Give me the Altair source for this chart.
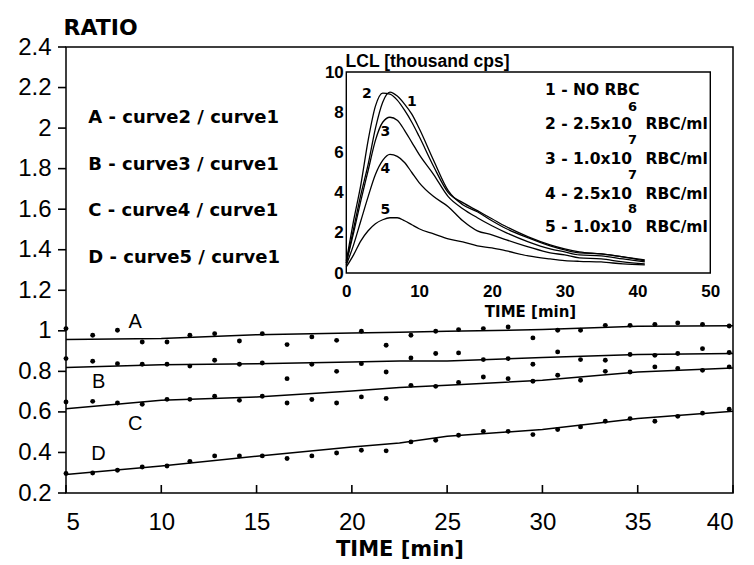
import altair as alt
import pandas as pd

# ---------------- main plot data (ratio vs time) ----------------
times = [5.0, 6.4, 7.7, 9.0, 10.3, 11.5, 12.8, 14.1, 15.3, 16.6, 17.9, 19.2, 20.5, 21.8,
         23.1, 24.4, 25.6, 26.9, 28.2, 29.5, 30.8, 32.0, 33.3, 34.6, 35.9, 37.1, 38.4, 39.8]
ratio_a = [1.011, 0.978, 1.003, 0.945, 0.945, 0.978, 0.986, 0.950, 0.986, 0.932, 0.970, 0.953, 0.998, 0.929,
           0.978, 0.998, 1.006, 1.011, 1.019, 0.965, 1.003, 1.003, 1.027, 1.027, 1.032, 1.039, 1.032, 1.024]
ratio_b = [0.863, 0.850, 0.838, 0.835, 0.835, 0.826, 0.855, 0.835, 0.841, 0.764, 0.835, 0.800, 0.838, 0.797,
           0.866, 0.888, 0.891, 0.858, 0.863, 0.835, 0.896, 0.858, 0.855, 0.883, 0.879, 0.888, 0.912, 0.893]
ratio_c = [0.649, 0.652, 0.644, 0.638, 0.662, 0.662, 0.677, 0.657, 0.677, 0.644, 0.661, 0.644, 0.674, 0.666,
           0.731, 0.726, 0.745, 0.772, 0.764, 0.751, 0.781, 0.756, 0.800, 0.797, 0.822, 0.814, 0.805, 0.822]
ratio_d = [0.296, 0.299, 0.312, 0.328, 0.333, 0.356, 0.383, 0.383, 0.383, 0.370, 0.383, 0.397, 0.411, 0.408,
           0.452, 0.460, 0.485, 0.504, 0.504, 0.488, 0.513, 0.526, 0.554, 0.567, 0.554, 0.578, 0.594, 0.613]

fit_times = [5, 10, 15, 20, 22.5, 25, 30, 35, 40]
fit_a = [0.957, 0.962, 0.981, 0.989, 0.993, 0.998, 1.006, 1.022, 1.025]
fit_b = [0.819, 0.833, 0.838, 0.846, 0.851, 0.851, 0.868, 0.883, 0.888]
fit_c = [0.616, 0.657, 0.674, 0.703, 0.720, 0.731, 0.756, 0.797, 0.817]
fit_d = [0.291, 0.333, 0.381, 0.427, 0.447, 0.480, 0.513, 0.567, 0.603]

series_names = ["A", "B", "C", "D"]
letter_x = [8.63, 6.71, 8.63, 6.71]
letter_y = [1.044, 0.748, 0.542, 0.394]

legend_lines = ["A - curve2 / curve1", "B - curve3 / curve1", "C - curve4 / curve1", "D - curve5 / curve1"]
legend_x = [6.17, 6.17, 6.17, 6.17]
legend_y = [2.05, 1.82, 1.59, 1.36]

y_ticks = [0.2, 0.4, 0.6, 0.8, 1.0, 1.2, 1.4, 1.6, 1.8, 2.0, 2.2, 2.4]
x_ticks = [5, 10, 15, 20, 25, 30, 35, 40]

# ---------------- inset data (LCL kinetics) ----------------
lcl_t = [0, 1, 2, 3, 4, 5, 6, 7, 8, 9, 10, 12, 14, 16, 18, 20, 22, 25, 28, 30, 32, 35, 38, 41]
lcl_1 = [0.5, 2.2, 3.9, 5.4, 7.2, 8.5, 9.0, 8.8, 8.4, 7.9, 7.2, 5.6, 4.1, 3.4, 3.05, 2.6, 2.2, 1.75, 1.35, 1.15, 1.0, 0.95, 0.8, 0.6]
lcl_2 = [0.6, 2.6, 4.4, 6.6, 8.3, 8.95, 8.9, 8.6, 8.1, 7.5, 6.8, 5.3, 4.0, 3.5, 3.1, 2.7, 2.3, 1.8, 1.4, 1.2, 1.05, 0.95, 0.8, 0.65]
lcl_3 = [0.5, 2.0, 3.6, 5.1, 6.6, 7.5, 7.75, 7.6, 7.1, 6.5, 5.9, 4.9, 3.8, 3.2, 2.75, 2.35, 2.0, 1.55, 1.2, 1.05, 0.9, 0.85, 0.7, 0.55]
lcl_4 = [0.4, 1.4, 2.6, 3.8, 4.9, 5.6, 5.9, 5.8, 5.5, 5.0, 4.5, 3.8, 3.3, 2.6, 2.1, 1.9, 1.65, 1.3, 1.0, 0.9, 0.75, 0.7, 0.55, 0.45]
lcl_5 = [0.3, 0.9, 1.6, 2.1, 2.45, 2.65, 2.75, 2.75, 2.6, 2.4, 2.2, 1.95, 1.7, 1.55, 1.35, 1.25, 1.1, 0.85, 0.7, 0.62, 0.58, 0.55, 0.45, 0.4]

curve_ids = ["1", "2", "3", "4", "5"]
curve_lab_x = [9.02, 2.84, 5.36, 5.36, 5.36]
curve_lab_y = [8.51, 8.93, 7.01, 5.19, 3.12]

inset_title = "LCL [thousand cps]"
inset_title_x = -0.1
inset_title_y = 10.5

inset_leg_prefix = ["1 - NO RBC", "2 - 2.5x10", "3 - 1.0x10", "4 - 2.5x10", "5 - 1.0x10"]
inset_leg_exp = ["", "6", "7", "7", "8"]
inset_leg_unit = ["", "RBC/ml", "RBC/ml", "RBC/ml", "RBC/ml"]
inset_leg_x = 27.3
inset_leg_y = [9.09, 7.43, 5.69, 3.95, 2.29]
inset_exp_x = 39.3
inset_exp_y = [None, 8.26, 6.60, 4.86, 3.20]
inset_unit_x = 41.1

inset_x_ticks = [0, 10, 20, 30, 40, 50]
inset_y_ticks = [0, 2, 4, 6, 8, 10]

# ---------------- build tables ----------------
pts_rows = []
for name, vals in zip(series_names, [ratio_a, ratio_b, ratio_c, ratio_d]):
    for t, v in zip(times, vals):
        pts_rows.append({"series": name, "time": t, "ratio": v})
pts_df = pd.DataFrame(pts_rows)

fit_rows = []
for name, vals in zip(series_names, [fit_a, fit_b, fit_c, fit_d]):
    for t, v in zip(fit_times, vals):
        fit_rows.append({"series": name, "time": t, "ratio": v})
fit_df = pd.DataFrame(fit_rows)

letters_df = pd.DataFrame({"label": series_names, "time": letter_x, "ratio": letter_y})
legend_df = pd.DataFrame({"label": legend_lines, "time": legend_x, "ratio": legend_y})
ytick_df = pd.DataFrame({"ratio": y_ticks})
xtick_df = pd.DataFrame({"time": x_ticks})

lcl_rows = []
for cid, vals in zip(curve_ids, [lcl_1, lcl_2, lcl_3, lcl_4, lcl_5]):
    for t, v in zip(lcl_t, vals):
        lcl_rows.append({"curve": cid, "t": t, "lcl": v})
lcl_df = pd.DataFrame(lcl_rows)

curve_lab_df = pd.DataFrame({"label": curve_ids, "t": curve_lab_x, "lcl": curve_lab_y})
inset_title_df = pd.DataFrame({"label": [inset_title], "t": [inset_title_x], "lcl": [inset_title_y]})
inset_prefix_df = pd.DataFrame({"label": inset_leg_prefix, "t": [inset_leg_x] * 5, "lcl": inset_leg_y})
inset_exp_df = pd.DataFrame({"label": inset_leg_exp[1:], "t": [inset_exp_x] * 4, "lcl": inset_exp_y[1:]})
inset_unit_df = pd.DataFrame({"label": inset_leg_unit[1:], "t": [inset_unit_x] * 4, "lcl": inset_leg_y[1:]})
frame_df = pd.DataFrame({"t0": [inset_x_ticks[0]], "t1": [inset_x_ticks[-1]],
                         "v0": [inset_y_ticks[0]], "v1": [inset_y_ticks[-1]]})

# ---------------- layout constants ----------------
W, H = 667, 446
IN_LEFT, IN_RIGHT, IN_TOP, IN_BOTTOM = 280.3, 644.3, 25.0, 226.0
kx = (IN_RIGHT - IN_LEFT) / 50.0
ky = (IN_BOTTOM - IN_TOP) / 10.0
INSET_X_DOMAIN = [-IN_LEFT / kx, 50 + (W - IN_RIGHT) / kx]
INSET_Y_DOMAIN = [-(H - IN_BOTTOM) / ky, 10 + IN_TOP / ky]

XM = alt.Scale(domain=[5, 40], nice=False, zero=False)
YM = alt.Scale(domain=[0.2, 2.4], nice=False, zero=False)
XI = alt.Scale(domain=INSET_X_DOMAIN, nice=False, zero=False)
YI = alt.Scale(domain=INSET_Y_DOMAIN, nice=False, zero=False)

TICK_FONT = "Liberation Sans"
BOLD_FONT = "DejaVu Sans"
TICK_LEN = 8

main_x_axis = alt.Axis(
    orient="bottom", values=x_ticks, format="d", ticks=False, domain=False, grid=False,
    labelFont=TICK_FONT, labelFontSize=24, labelColor="black", labelPadding=17,
    title="TIME [min]", titleFont=BOLD_FONT, titleFontSize=21, titleColor="black",
    titleBaseline="middle", titleY=56, titleX=W / 2,
)
main_y_axis = alt.Axis(
    orient="left", values=y_ticks, format=".1~f", ticks=False,
    domain=False, grid=False, labelFont=TICK_FONT, labelFontSize=24, labelColor="black",
    labelPadding=15, title="RATIO", titleFont=BOLD_FONT, titleFontSize=22, titleColor="black",
    titleAngle=0, titleAlign="left", titleBaseline="middle", titleX=-3, titleY=-20,
)
inset_x_axis = alt.Axis(
    orient="bottom", offset=-(H - IN_BOTTOM), values=inset_x_ticks, domain=False, grid=False,
    ticks=False, labelFont="Liberation Sans", labelFontWeight="bold", labelFontSize=17,
    labelColor="black", labelPadding=10,
    title="TIME [min]", titleFont=BOLD_FONT, titleFontSize=15, titleColor="black",
    titleBaseline="middle", titleX=464, titleY=38,
)
inset_y_axis = alt.Axis(
    orient="left", offset=-IN_LEFT, values=inset_y_ticks, domain=False, grid=False,
    ticks=False, labelFont="Liberation Sans", labelFontWeight="bold", labelFontSize=17,
    labelColor="black", labelPadding=3, title=None,
)

def txt(df, scale_x, scale_y, xf, yf, **kw):
    return alt.Chart(df).mark_text(color="black", baseline="middle", **kw).encode(
        x=alt.X(xf, scale=scale_x, axis=None),
        y=alt.Y(yf, scale=scale_y, axis=None),
        text="label:N",
    )

layers = [
    # main plot
    alt.Chart(fit_df).mark_line(color="black", strokeWidth=1.5).encode(
        x=alt.X("time:Q", scale=XM, axis=None),
        y=alt.Y("ratio:Q", scale=YM, axis=None),
        detail="series:N",
    ),
    alt.Chart(pts_df).mark_point(filled=True, color="black", size=24, opacity=1).encode(
        x=alt.X("time:Q", scale=XM, axis=main_x_axis),
        y=alt.Y("ratio:Q", scale=YM, axis=main_y_axis),
        detail="series:N",
    ),
    # y-axis tick marks (outward, left of the frame)
    alt.Chart(ytick_df).mark_tick(color="black", orient="horizontal", size=TICK_LEN,
                                  thickness=1.6, opacity=1).encode(
        y=alt.Y("ratio:Q", scale=YM, axis=None),
        x=alt.value(-TICK_LEN / 2),
    ),
    # x-axis tick marks (inward, above the bottom frame)
    alt.Chart(xtick_df).mark_tick(color="black", orient="vertical", size=TICK_LEN,
                                  thickness=1.6, opacity=1).encode(
        x=alt.X("time:Q", scale=XM, axis=None),
        y=alt.value(H - TICK_LEN / 2),
    ),
    txt(letters_df, XM, YM, "time:Q", "ratio:Q", font=TICK_FONT, fontSize=20, align="center"),
    txt(legend_df, XM, YM, "time:Q", "ratio:Q", font=BOLD_FONT, fontWeight="bold", fontSize=18, align="left"),
    # inset
    alt.Chart(frame_df).mark_rect(fill="white", stroke="black", strokeWidth=1.4).encode(
        x=alt.X("t0:Q", scale=XI, axis=None), x2="t1:Q",
        y=alt.Y("v0:Q", scale=YI, axis=None), y2="v1:Q",
    ),
    alt.Chart(lcl_df).mark_line(color="black", strokeWidth=1.3, interpolate="monotone").encode(
        x=alt.X("t:Q", scale=XI, axis=inset_x_axis),
        y=alt.Y("lcl:Q", scale=YI, axis=inset_y_axis),
        detail="curve:N",
    ),
    txt(curve_lab_df, XI, YI, "t:Q", "lcl:Q", font=BOLD_FONT, fontWeight="bold", fontSize=14, align="center"),
    txt(inset_title_df, XI, YI, "t:Q", "lcl:Q", font="Liberation Sans", fontWeight="bold", fontSize=17.5, align="left"),
    txt(inset_prefix_df, XI, YI, "t:Q", "lcl:Q", font=BOLD_FONT, fontWeight="bold", fontSize=15.5, align="left"),
    txt(inset_exp_df, XI, YI, "t:Q", "lcl:Q", font=BOLD_FONT, fontWeight="bold", fontSize=13, align="center"),
    txt(inset_unit_df, XI, YI, "t:Q", "lcl:Q", font=BOLD_FONT, fontWeight="bold", fontSize=15.5, align="left"),
]

chart = alt.layer(*layers).resolve_scale(
    x="independent", y="independent"
).resolve_axis(
    x="independent", y="independent"
).properties(
    width=W, height=H,
    padding={"left": 66, "top": 47, "right": 21, "bottom": 72},
    autosize=alt.AutoSizeParams(type="none"),
    background="white",
).configure_view(stroke="black", strokeWidth=1.5)

chart.save("out.html", embed_options={"renderer": "svg", "actions": False})
